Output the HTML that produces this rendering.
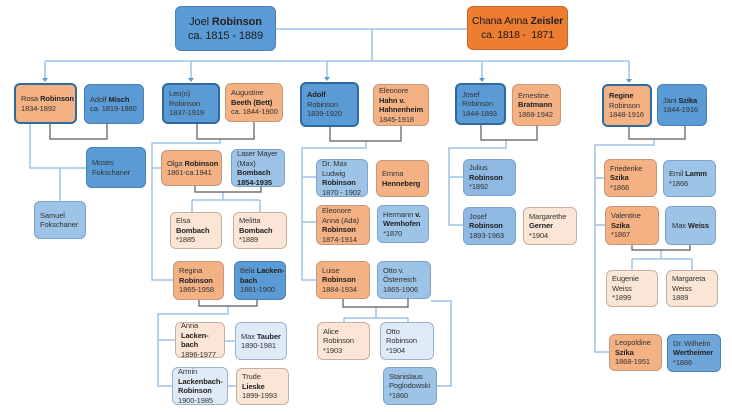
<!DOCTYPE html>
<html><head><meta charset="utf-8"><style>
body{margin:0;width:732px;height:412px;background:#fff;position:relative;overflow:hidden;font-family:"Liberation Sans",sans-serif;}
.n{position:absolute;box-sizing:border-box;border-radius:6px;border:1px solid #7a9cc0;font-size:7.5px;line-height:9.5px;color:#333;display:flex;flex-direction:column;justify-content:center;padding-left:5px;white-space:nowrap;letter-spacing:-0.1px}
.n b{color:#222}
.o{background:#f4b183;border-color:#c9977a}
.b{background:#5b9bd5;border-color:#4a80b5}
.lb{background:#9dc3e6;border-color:#7ba3cc}
.lo{background:#fbe5d6;border-color:#c8b0a0}
.vb{background:#deebf7;border-color:#9cb4cc}
.t{border:2px solid #2e6aa0}
svg{position:absolute;left:0;top:0}
</style></head><body>
<svg width="732" height="412">
<g stroke="#9dc3e6" stroke-width="1.5" fill="none">
<path d="M276 29H467M372 29V61M45 61H629"/>
<path d="M45 61V80M191 61V80M327 61V79M482 61V80M629 61V81"/>
<path d="M30 124V168H86M60 168V201"/>
<path d="M220 139V143H152V280H173M152 168H161"/>
<path d="M223 192V200M192 200H260M192 200V212M260 200V212"/>
<path d="M228 306V314H158V386H172M158 340H175M225 341H235M228 386H236"/>
<path d="M366 141V148H302V280H316M302 177H316M302 222H316"/>
<path d="M376 307V318M344 318H408M344 318V322M408 318V322M431 301H451V386H437"/>
<path d="M506 140V148H449V225H463M449 177H463"/>
<path d="M654 139V145H595V352H609M595 178H604M595 225H605"/>
<path d="M661 250V259M632 259H692M632 259V270M692 259V270"/>
</g>
<g stroke="#595959" stroke-width="1.2" fill="none">
<path d="M50 124V139H107V124"/>
<path d="M197 124V139H254V122"/>
<path d="M195 186V192H261V187"/>
<path d="M199 300V306H257V300"/>
<path d="M330 127V141H401V126"/>
<path d="M343 299V307H408V299"/>
<path d="M481 125V140H537V126"/>
<path d="M629 127V139H685V126"/>
<path d="M632 245V250H690V245"/>
</g>
<g fill="#5b9bd5">
<path d="M42 78h6l-3 4z M188 78h6l-3 4z M324 77h6l-3 4z M479 78h6l-3 4z M626 79h6l-3 4z"/>
</g>
</svg>

<div class="n b" style="left:175px;top:6px;width:101px;height:45px;align-items:center;padding:0;font-size:11px;line-height:14px;color:#1a1a1a"><span>Joel <b>Robinson</b></span><span>ca. 1815 - 1889</span></div>
<div class="n" style="left:467px;top:6px;width:101px;height:44px;align-items:center;padding:0;font-size:10.5px;line-height:14px;background:#ed7d31;border-color:#c8662a;color:#1a1a1a;letter-spacing:-0.2px"><span>Chana Anna <b>Zeisler</b></span><span>ca. 1818 -&nbsp; 1871</span></div>

<div class="n o t" style="left:14px;top:83px;width:63px;height:41px"><span>Rosa <b>Robinson</b></span><span>1834-1892</span></div>
<div class="n b" style="left:84px;top:84px;width:60px;height:40px"><span>Adolf <b>Misch</b></span><span>ca. 1819-1880</span></div>
<div class="n b" style="left:86px;top:147px;width:60px;height:41px"><span>Moses</span><span>Fokschaner</span></div>
<div class="n lb" style="left:34px;top:201px;width:52px;height:38px"><span>Samuel</span><span>Fokschaner</span></div>

<div class="n b t" style="left:162px;top:83px;width:58px;height:41px"><span>Leo(n)</span><span>Robinson</span><span>1837-1919</span></div>
<div class="n o" style="left:225px;top:83px;width:58px;height:39px"><span>Augustine</span><span><b>Beeth (Bett)</b></span><span>ca. 1844-1900</span></div>
<div class="n o" style="left:161px;top:150px;width:61px;height:36px"><span>Olga <b>Robinson</b></span><span>1861-ca.1941</span></div>
<div class="n lb" style="left:231px;top:149px;width:54px;height:38px"><span>Laser Mayer</span><span>(Max)</span><span><b>Bombach</b></span><span><b>1854-1935</b></span></div>
<div class="n lo" style="left:170px;top:212px;width:52px;height:37px"><span>Elsa</span><span><b>Bombach</b></span><span>*1885</span></div>
<div class="n lo" style="left:233px;top:212px;width:54px;height:37px"><span>Melitta</span><span><b>Bombach</b></span><span>*1889</span></div>
<div class="n o" style="left:173px;top:261px;width:51px;height:39px"><span>Regina</span><span><b>Robinson</b></span><span>1865-1958</span></div>
<div class="n b" style="left:234px;top:261px;width:52px;height:39px"><span>Bela <b>Lacken-</b></span><span><b>bach</b></span><span>1861-1900</span></div>
<div class="n lo" style="left:175px;top:322px;width:50px;height:36px"><span>Anna</span><span><b>Lacken-</b></span><span><b>bach</b></span><span>1896-1977</span></div>
<div class="n vb" style="left:235px;top:322px;width:52px;height:38px"><span>Max <b>Tauber</b></span><span>1890-1981</span></div>
<div class="n vb" style="left:172px;top:367px;width:56px;height:38px"><span>Armin</span><span><b>Lackenbach-</b></span><span><b>Robinson</b></span><span>1900-1985</span></div>
<div class="n lo" style="left:236px;top:368px;width:53px;height:37px"><span>Trude</span><span><b>Lieske</b></span><span>1899-1993</span></div>

<div class="n b t" style="left:300px;top:82px;width:59px;height:45px"><span><b>Adolf</b></span><span>Robinson</span><span>1839-1920</span></div>
<div class="n o" style="left:373px;top:84px;width:56px;height:42px"><span>Eleonore</span><span><b>Hahn v.</b></span><span><b>Hahnenheim</b></span><span>1845-1918</span></div>
<div class="n lb" style="left:316px;top:159px;width:52px;height:38px"><span>Dr. Max</span><span>Ludwig</span><span><b>Robinson</b></span><span>1870 - 1902</span></div>
<div class="n o" style="left:376px;top:160px;width:53px;height:37px"><span>Emma</span><span><b>Henneberg</b></span></div>
<div class="n o" style="left:316px;top:205px;width:54px;height:40px"><span>Eleonore</span><span>Anna (Ada)</span><span><b>Robinson</b></span><span>1874-1914</span></div>
<div class="n lb" style="left:377px;top:205px;width:52px;height:38px"><span>Hermann <b>v.</b></span><span><b>Wemhofen</b></span><span>*1870</span></div>
<div class="n o" style="left:316px;top:261px;width:54px;height:38px"><span>Luise</span><span><b>Robinson</b></span><span>1884-1934</span></div>
<div class="n lb" style="left:377px;top:261px;width:54px;height:38px"><span>Otto v.</span><span>Österreich</span><span>1865-1906</span></div>
<div class="n lo" style="left:317px;top:322px;width:53px;height:38px"><span>Alice</span><span>Robinson</span><span>*1903</span></div>
<div class="n vb" style="left:380px;top:322px;width:54px;height:38px"><span>Otto</span><span>Robinson</span><span>*1904</span></div>
<div class="n lb" style="left:383px;top:367px;width:54px;height:38px"><span>Stanislaus</span><span>Poglodowski</span><span>*1860</span></div>

<div class="n b t" style="left:455px;top:83px;width:51px;height:42px"><span>Josef</span><span>Robinson</span><span>1844-1893</span></div>
<div class="n o" style="left:512px;top:84px;width:49px;height:42px"><span>Ernestine</span><span><b>Bratmann</b></span><span>1868-1942</span></div>
<div class="n lb" style="left:463px;top:159px;width:53px;height:37px;background:#8fb8e2"><span>Julius</span><span><b>Robinson</b></span><span>*1892</span></div>
<div class="n lb" style="left:463px;top:207px;width:53px;height:38px;background:#8fb8e2"><span>Josef</span><span><b>Robinson</b></span><span>1893-1963</span></div>
<div class="n lo" style="left:523px;top:207px;width:54px;height:38px"><span>Margarethe</span><span><b>Gerner</b></span><span>*1904</span></div>

<div class="n o t" style="left:602px;top:84px;width:50px;height:43px"><span><b>Regine</b></span><span>Robinson</span><span>1848-1916</span></div>
<div class="n b" style="left:657px;top:84px;width:50px;height:42px"><span>Jáni <b>Szika</b></span><span>1844-1916</span></div>
<div class="n o" style="left:604px;top:159px;width:53px;height:38px"><span>Friederike</span><span><b>Szika</b></span><span>*1866</span></div>
<div class="n lb" style="left:663px;top:160px;width:53px;height:37px"><span>Emil <b>Lamm</b></span><span>*1866</span></div>
<div class="n o" style="left:605px;top:206px;width:54px;height:39px"><span>Valentine</span><span><b>Szika</b></span><span>*1867</span></div>
<div class="n lb" style="left:665px;top:206px;width:51px;height:39px;align-items:center;padding:0"><span>Max <b>Weiss</b></span></div>
<div class="n lo" style="left:606px;top:270px;width:52px;height:37px"><span>Eugenie</span><span>Weiss</span><span>*1899</span></div>
<div class="n lo" style="left:666px;top:270px;width:52px;height:37px"><span>Margareta</span><span>Weiss</span><span>1889</span></div>
<div class="n o" style="left:609px;top:334px;width:53px;height:37px"><span>Leopoldine</span><span><b>Szika</b></span><span>1868-1951</span></div>
<div class="n b" style="left:667px;top:334px;width:54px;height:38px;background:#6fa6da"><span>Dr. Wilhelm</span><span><b>Wertheimer</b></span><span>*1866</span></div>
</body></html>
